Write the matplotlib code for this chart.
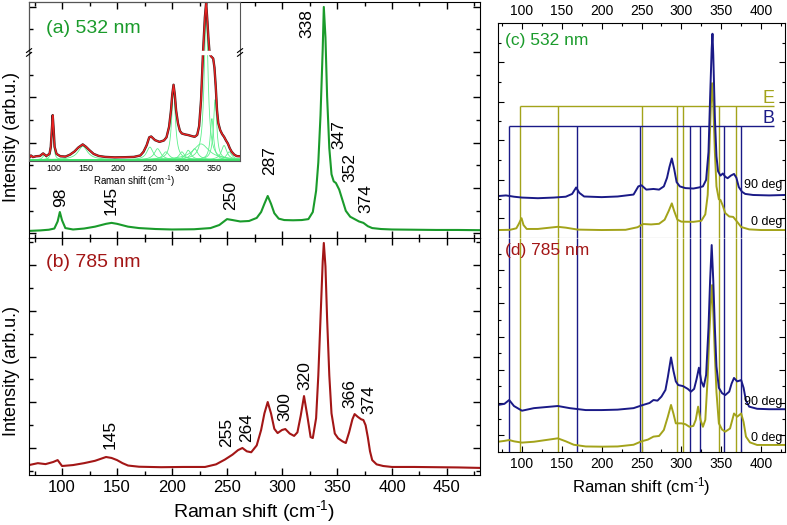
import matplotlib
matplotlib.use('Agg')
import matplotlib.pyplot as plt
import numpy as np
from matplotlib.ticker import MultipleLocator, FixedLocator

plt.rcParams['font.family'] = ['Liberation Sans', 'DejaVu Sans']
plt.rcParams['mathtext.fontset'] = 'custom'
plt.rcParams['mathtext.rm'] = 'Liberation Sans'
plt.rcParams['mathtext.default'] = 'regular'

#--------
# data (intensities in arbitrary units, 0-100 per panel)

# (a) 532 nm spectrum
a_shift = [70, 80, 88, 93, 96, 98, 100, 103, 110, 120, 130, 140, 145, 150, 160, 170, 185,
           200, 220, 235, 243, 250, 255, 262, 270, 277, 281, 284, 287, 290, 293, 297, 302,
           310, 318, 324, 328, 331, 333, 335, 337, 338, 339.5, 341, 343, 345, 347, 349,
           352, 355, 358, 362, 366, 370, 374, 378, 382, 390, 400, 420, 440, 460, 480]
a_int = [3, 3.2, 3.5, 4, 7, 11, 7.5, 4.2, 3.6, 4, 4.8, 6, 6.4, 6, 4.8, 4.2, 3.8,
         3.6, 3.7, 4.2, 5.5, 8, 7.6, 7, 7.2, 8.5, 11, 14.5, 17.8, 14.5, 10.5, 8.2, 7.6,
         7.5, 7.6, 8, 11, 20, 32, 52, 80, 97.9, 85, 60, 38, 27, 24, 23.3,
         20.5, 16, 11.5, 9, 8, 7, 6.4, 5, 4.2, 3.8, 3.6, 3.5, 3.4, 3.4, 3.3]

# (b) 785 nm spectrum
b_shift = [70, 78, 85, 92, 96, 100, 110, 120, 130, 140, 145, 150, 155, 160, 170, 190, 210,
           230, 240, 248, 255, 260, 264, 268, 272, 277, 281, 284, 287, 290, 293, 296, 300,
           303, 307, 311, 314, 317, 320, 323, 326, 328, 331, 333, 335, 337, 338, 339.5,
           341, 343, 345, 348, 351, 355, 358, 361, 364, 366, 369, 372, 374, 376, 378,
           380, 382, 386, 392, 400, 420, 440, 460, 480]
b_int = [4.2, 5, 4.6, 5.5, 6.3, 3.8, 4.2, 5, 6, 7.6, 7.2, 6.3, 5, 4, 3.5, 3.3, 3.4,
         3.4, 4.5, 6.5, 8.6, 10.5, 11.4, 10, 9.6, 12.5, 19, 26, 30.8, 26, 19.5, 17.7, 19,
         19.4, 17.5, 16.5, 18, 25, 33.3, 25, 16, 15.6, 24, 42, 66, 90, 97.9, 88,
         66, 42, 26, 17.5, 15.5, 14.2, 13.5, 18, 23.5, 25.7, 24.5, 23.5, 23.2, 21, 16,
         10, 6.3, 4.5, 3.8, 3.4, 3.4, 3.3, 3.2, 3]

# inset: measured data (a) and fitted lorentzian components
ins_shift = [61, 64, 67, 72, 78, 83, 88, 93, 95, 97, 98, 99.5, 101, 104, 110, 118, 125,
             132, 138, 145, 150, 155, 162, 170, 180, 195, 210, 225, 235, 240, 245, 249,
             252, 258, 265, 272, 276, 280, 283, 285, 287, 289, 291, 294, 297, 300, 305,
             310, 315, 320, 324, 327, 330, 333, 336, 338, 340, 341.5, 343, 345, 347, 349,
             351, 353, 355, 357, 360, 363, 366, 369, 372, 375, 378, 382, 386, 391]
ins_int = [1.9, 3.5, 2.5, 3, 3.2, 4.8, 3.2, 4.5, 9, 22, 29, 20, 9, 4.5, 3, 2.8, 4,
           6, 8.5, 10.5, 9, 7, 4.5, 3.2, 2.6, 2.3, 2.4, 2.6, 3.5, 5.8, 10, 15,
           15.5, 13.2, 12.1, 13, 15, 21.6, 32, 42, 48.2, 42, 32, 23.7, 19, 17.4, 16.8,
           16.4, 15.8, 15.3, 16.5, 22, 38.4, 67.7, 90.8, 100, 88, 78, 70, 66.5, 65.6, 64.8,
           59, 47, 32, 24, 19.5, 17, 15.3, 13, 11, 8, 5.8, 4, 3.1, 3]
comp_center = [85, 98, 145, 250, 262, 275, 287, 300, 310, 320, 330, 338, 347, 352, 366, 374]
comp_height = [3, 27, 8.5, 8, 7, 5, 44, 5, 6, 7, 10, 95, 26, 38, 9, 5]
comp_hwhm = [3, 1.5, 9, 6, 6, 6, 3.5, 5, 5, 6, 15, 3.5, 3, 3, 5, 5]
comp_base = 0.8

# (c) 532 nm polarised spectra
c_shift_90 = [70, 80, 90, 100, 120, 140, 155, 163, 168, 172, 178, 200, 220, 240, 246, 250,
              256, 265, 272, 278, 282, 285, 288, 291, 294, 298, 305, 315, 322, 327, 331,
              334, 336, 338, 339, 340, 342, 344, 346, 349, 352, 355, 358, 362, 366, 369,
              372, 376, 380, 390, 410, 430]
c_int_90 = [19.5, 19.8, 19.2, 18.8, 18.5, 18.8, 19.2, 20.5, 23.5, 21, 19.3, 19, 19.3, 20.2,
            24, 24.5, 22.5, 22.8, 22.5, 24, 28, 33, 37, 32, 26, 24, 23.2, 23, 23.5, 24, 27,
            40, 65, 88, 95, 85, 56, 38, 31, 29, 30, 28.5, 27.8, 29, 29.8, 28,
            23.7, 21.5, 20.5, 20, 19.8, 20]
c_shift_0 = [70, 85, 93, 96, 99.5, 102, 106, 120, 135, 145, 155, 170, 200, 230, 245, 252,
             262, 272, 279, 284, 288, 291, 295, 300, 315, 325, 330, 333, 335, 337, 338.5,
             340, 342, 344, 347, 349, 352, 355, 360, 365, 370, 375, 385, 400, 430]
c_int_0 = [3.7, 3.8, 4.5, 6.5, 9.2, 6, 4.2, 4.2, 4.8, 5.2, 4.8, 3.9, 3.7, 3.8, 5, 6.5,
           6.3, 6.6, 8.5, 12.5, 16.1, 12.5, 8.5, 7.6, 7.5, 8, 11, 20, 40, 62, 72,
           62, 40, 24, 18, 17.7, 15, 11.6, 10, 9.8, 7.5, 5.1, 4, 3.7, 3.7]

# (d) 785 nm polarised spectra
d_shift_90 = [70, 78, 84, 90, 100, 115, 130, 145, 160, 180, 200, 220, 240, 252, 260, 265,
              270, 275, 280, 283, 287, 290, 293, 296, 302, 308, 312, 316, 319, 322, 325,
              328, 331, 334, 336, 338, 340, 342, 344, 347, 351, 355, 360, 363, 366, 370,
              375, 378, 381, 385, 395, 410, 430]
d_int_90 = [22, 22.5, 24.3, 21.5, 19.3, 20.5, 21, 21.5, 20.5, 19.6, 19.6, 19.8, 20.5, 22,
            22.9, 24.3, 24, 25.9, 29, 35, 44.2, 38, 33, 31.3, 30.8, 29.5, 28.2, 29.5, 34,
            39.4, 33, 30.5, 36, 58, 80, 96.7, 80, 58, 40, 30, 27.5, 26.6, 28.2, 32, 34.6,
            33, 33.6, 30, 24, 21.2, 20.2, 20, 20]
d_shift_0 = [70, 78, 84, 90, 100, 115, 130, 145, 155, 165, 180, 200, 220, 240, 250, 258,
             265, 272, 278, 283, 287, 290, 293, 300, 305, 310, 315, 318, 321, 324, 327,
             330, 333, 335, 337, 338.5, 340, 342, 344, 347, 351, 355, 361, 366, 370, 375,
             378, 381, 386, 395, 430]
d_int_0 = [4.8, 5.2, 5.6, 5, 4.4, 4.8, 5.6, 6.4, 5, 3.4, 2.6, 2.5, 2.6, 3.4, 5, 5.8,
           7.2, 7.5, 10.3, 16.5, 22, 18, 13.4, 13.4, 13, 11.8, 12.2, 15, 21.2, 15, 11.8,
           15, 35, 55, 70, 78, 65, 45, 28, 13.4, 10.5, 9.5, 11, 18, 16.5, 18,
           14, 7.2, 4.5, 3.3, 3.3]

# mode positions (symmetry E and B)
E_modes = [98, 145, 251, 295, 302, 347, 368]
B_modes = [84, 169, 248, 311, 323, 353, 375]

a_labels = ['98', '145', '250', '287', '338', '347', '352', '374']
b_labels = ['145', '255', '264', '300', '320', '366', '374']

xlab = 'Raman shift (cm$^{\u2010' + '1}$)'

#--------
# colours
green = '#1a9b2b'
dred = '#a31616'
navy = '#1a1a87'
olive = '#a3a31a'

fig = plt.figure(figsize=(7.87, 5.25), dpi=100)

ax_a = fig.add_axes([0.0369, 0.5467, 0.5730, 0.4495])
ax_b = fig.add_axes([0.0369, 0.0952, 0.5730, 0.4515])
ax_c = fig.add_axes([0.6328, 0.5467, 0.3647, 0.4095])
ax_d = fig.add_axes([0.6328, 0.1390, 0.3647, 0.4077])
ax_in = fig.add_axes([0.0369, 0.6933, 0.2681, 0.3029])


def style_left(ax, yticks, ymin):
    ax.set_xlim(70, 480)
    ax.set_ylim(0, 100)
    ax.xaxis.set_major_locator(MultipleLocator(50))
    ax.xaxis.set_minor_locator(MultipleLocator(25))
    ax.yaxis.set_major_locator(FixedLocator(yticks))
    ax.yaxis.set_minor_locator(FixedLocator(ymin))
    ax.tick_params(which='both', direction='in', top=True, right=True, labelleft=False)
    ax.tick_params(which='major', length=5, width=1)
    ax.tick_params(which='minor', length=3, width=1)
    ax.tick_params(axis='x', labelsize=12)


# (a)
style_left(ax_a, [2.1, 21.2, 40.3, 59.7, 78.8, 97.9], [11.6, 30.8, 50, 69.2, 88.4])
ax_a.plot(a_shift, a_int, color=green, lw=1.5)
ax_a.tick_params(labelbottom=False)
ax_a.text(0.037, 0.888, '(a) 532 nm', color=green, fontsize=14, transform=ax_a.transAxes,
          va='center')
a_lab_x = [99, 145, 253, 288.5, 323, 352, 362, 376]
a_lab_y = [17.4, 15.7, 17.8, 32.6, 90.7, 44, 30, 16.5]
for s, x, y in zip(a_labels, a_lab_x, a_lab_y):
    ax_a.text(x, y, s, rotation=90, fontsize=12.5, ha='center', va='center')
ax_a.set_ylabel('Intensity (arb.u.)', fontsize=13)
ax_a.yaxis.set_label_coords(-0.02, 0.43)

# (b)
style_left(ax_b, [11.3, 30.7, 50, 69.4, 88.8], [1.6, 21, 40.3, 59.7, 79.1, 98.5])
ax_b.plot(b_shift, b_int, color=dred, lw=1.5)
ax_b.text(0.037, 0.895, '(b) 785 nm', color=dred, fontsize=14, transform=ax_b.transAxes,
          va='center')
b_lab_x = [143.4, 249.5, 267.6, 303, 321, 362, 379]
b_lab_y = [17.3, 18.1, 20.2, 28.7, 41.8, 34.2, 32]
for s, x, y in zip(b_labels, b_lab_x, b_lab_y):
    ax_b.text(x, y, s, rotation=90, fontsize=12.5, ha='center', va='center')
ax_b.set_xlabel(xlab, fontsize=14, labelpad=2)
ax_b.set_ylabel('Intensity (arb.u.)', fontsize=13)
ax_b.yaxis.set_label_coords(-0.02, 0.44)

# inset
ax_in.patch.set_alpha(0)
ax_in.set_xlim(61, 391)
ax_in.set_ylim(0, 100.5)
xs = np.linspace(61, 391, 1200)
for c, h, w in zip(comp_center, comp_height, comp_hwhm):
    ax_in.plot(xs, comp_base + h / (1 + ((xs - c) / w) ** 2), color='#5cf08a', lw=0.6)
ax_in.axhline(comp_base, color='#3de06a', lw=2)
ax_in.plot(ins_shift, ins_int, color='#3a1a1a', lw=1.7)
ax_in.plot(ins_shift, ins_int, color='#ee2222', lw=1.0)
ax_in.axhspan(67.6, 69.6, xmin=0.01, xmax=0.99, color='white', zorder=2.6)
for xb in (0, 1):
    for dy in (-1.2, 1.2):
        ax_in.plot([xb - 0.012, xb + 0.012], [68.6 + dy - 1.2, 68.6 + dy + 1.2],
                   color='black', lw=0.8, transform=ax_in.get_yaxis_transform(),
                   clip_on=False, zorder=5)
ax_in.set_xticks([100, 150, 200, 250, 300, 350])
ax_in.set_yticks([])
ax_in.tick_params(axis='x', direction='in', length=0, labelsize=6.5, pad=2)
for sp in ax_in.spines.values():
    sp.set_color('#555555')
    sp.set_linewidth(0.8)
ax_in.set_xlabel(xlab, fontsize=7, labelpad=0)

# (c) and (d)
E_level = 61.4
B_level = 52.1
line_end = 416

for ax in (ax_c, ax_d):
    ax.set_xlim(70, 430)
    ax.set_ylim(0, 100)
    ax.xaxis.set_major_locator(MultipleLocator(50))
    ax.xaxis.set_minor_locator(MultipleLocator(25))
    ax.tick_params(which='both', direction='in', right=True, labelleft=False,
                   labelsize=10)
    ax.tick_params(which='major', length=4, width=0.8)
    ax.tick_params(which='minor', length=2, width=0.8)

ax_c.vlines(E_modes, 0, E_level, color=olive, lw=1)
ax_c.vlines(B_modes, 0, B_level, color=navy, lw=1)
ax_c.hlines(E_level, min(E_modes), line_end, color=olive, lw=1)
ax_c.hlines(B_level, min(B_modes), line_end, color=navy, lw=1)
ax_c.text(409.7, 65.1, 'E', color=olive, fontsize=13, ha='center', va='center')
ax_c.text(409.7, 55.8, 'B', color=navy, fontsize=13, ha='center', va='center')
ax_c.plot(c_shift_0, c_int_0, color=olive, lw=1.4)
ax_c.plot(c_shift_90, c_int_90, color=navy, lw=1.4)
ax_c.yaxis.set_major_locator(FixedLocator([9.3, 27, 45.6, 63.4, 82]))
ax_c.yaxis.set_minor_locator(FixedLocator([18.1, 36.3, 54.6, 72.7, 90.6]))
ax_c.tick_params(which='both', top=True, bottom=False, labeltop=True, labelbottom=False)
ax_c.spines['bottom'].set_color('#777777')
ax_c.text(0.025, 0.92, '(c) 532 nm', color=green, fontsize=12.5, transform=ax_c.transAxes,
          va='center')
ax_c.text(0.99, 24.5, '90 deg', fontsize=9, ha='right', va='center',
          transform=ax_c.get_yaxis_transform())
ax_c.text(0.99, 7.4, '0 deg', fontsize=9, ha='right', va='center',
          transform=ax_c.get_yaxis_transform())

ax_d.vlines(E_modes, 0, 100, color=olive, lw=1)
ax_d.vlines(B_modes, 0, 100, color=navy, lw=1)
ax_d.plot(d_shift_0, d_int_0, color=olive, lw=1.4)
ax_d.plot(d_shift_90, d_int_90, color=navy, lw=1.4)
ax_d.yaxis.set_major_locator(FixedLocator([7.9, 23, 38.3, 53.9, 69.6, 85]))
ax_d.yaxis.set_minor_locator(FixedLocator([15.4, 30.8, 46.3, 61.7, 77.2, 92.7]))
ax_d.tick_params(which='both', top=False)
ax_d.spines['top'].set_visible(False)
ax_d.text(0.025, 0.94, '(d) 785 nm', color=dred, fontsize=12.5, transform=ax_d.transAxes,
          va='center')
ax_d.text(0.99, 23.5, '90 deg', fontsize=9, ha='right', va='center',
          transform=ax_d.get_yaxis_transform())
ax_d.text(0.99, 6.4, '0 deg', fontsize=9, ha='right', va='center',
          transform=ax_d.get_yaxis_transform())
ax_d.set_xlabel(xlab, fontsize=12, labelpad=3)

fig.savefig('out.png', dpi=100)
